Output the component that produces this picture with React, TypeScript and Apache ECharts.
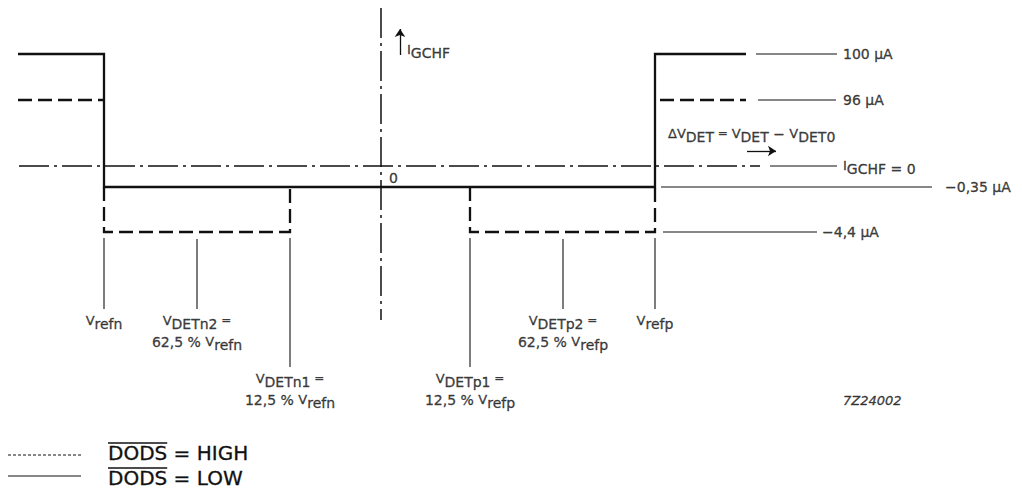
import React, { useEffect, useRef } from "react";
import * as echarts from "echarts";

// ---- data (schematic) ----
// current levels of I_GCHF and their vertical position on the schematic axis
const levelTexts = ["100 µA", "96 µA", "I_GCHF = 0", "−0,35 µA", "−4,4 µA"];
const levelPos = [112, 66, 0, -21, -66];
// detection voltages along ΔV_DET and their horizontal position on the schematic axis
const voltNames = ["Vrefn", "VDETn2", "VDETn1", "0", "VDETp1", "VDETp2", "Vrefp"];
const voltPos = [-276, -183, -90, 0, 90, 183, 275];
const voltPercent = ["", "62,5 %", "12,5 %", "", "12,5 %", "62,5 %", ""];
const legendTexts = ["DODS = HIGH", "DODS = LOW"];
const figureCode = "7Z24002";

const INK = "#111111";
const FONT = "DejaVu Sans";

const [L100, L96, L0, L035, L44] = levelPos;
const [Vrn, Vn2, Vn1, V0, Vp1, Vp2, Vrp] = voltPos;

// drawing extents (layout)
const XL = -362;
const XR = 366;

const lowPath = [
  [XL, L100], [Vrn, L100], [Vrn, L035], [Vrp, L035], [Vrp, L100], [XR, L100],
];
const highPaths = [
  [[XL, L96], [Vrn, L96]],
  [[Vrn, L035], [Vrn, L44], [Vn1, L44], [Vn1, L035]],
  [[Vp1, L035], [Vp1, L44], [Vrp, L44], [Vrp, L035]],
  [[Vrp + 5, L96], [XR, L96]],
];
const axisPaths = [
  [[XL + 1, L0], [380, L0]],
  [[V0 + 1, 158], [V0 + 1, -154]],
];
const levelLeaderX: number[][] = [[376, 457], [378, 456], [390, 457], [Vrp + 6, 552], [Vrp + 8, 437]];
const levelLabelX = [463, 463, 463, 565, 442];
const leaderPaths = [
  ...levelPos.map((y, i) => [[levelLeaderX[i][0], y], [levelLeaderX[i][1], y]]),
  [[Vrn, L44 - 6], [Vrn, -143]],
  [[Vn2, L44 - 7], [Vn2, -143]],
  [[Vn1, L44 - 6], [Vn1, -201]],
  [[Vp1, L44 - 6], [Vp1, -201]],
  [[Vp2, L44 - 7], [Vp2, -143]],
  [[Vrp, L44 - 6], [Vrp, -143]],
];
const arrowPaths = [
  [[20, 111], [20, 137]],
  [[367, 15], [396, 15]],
];

const sub = (m: string, s: string) => `{m|${m}}{s|${s}}`;
const splitName = (n: string) => [n.charAt(0), n.slice(1)];

function voltLabel(i: number) {
  const [m, s] = splitName(voltNames[i]);
  if (!voltPercent[i]) return sub(m, s);
  const ref = i < 3 ? "refn" : "refp";
  return `${sub(m, s)}{q| =}\n{n|${voltPercent[i]} }${sub("V", ref)}`;
}

function levelLabel(t: string) {
  if (t.startsWith("I_")) {
    const [a, rest] = t.split(" = ");
    return `{m|I}{s|${a.slice(2)}}{s| = ${rest}}`;
  }
  return `{n|${t}}`;
}

const bold = { textBorderColor: INK, textBorderWidth: 0.35 };
const rich = {
  m: { fontFamily: FONT, fontSize: 13, color: INK, lineHeight: 15, verticalAlign: "top", ...bold },
  s: { fontFamily: FONT, fontSize: 14, color: INK, lineHeight: 15, verticalAlign: "top", padding: [3, 0, 0, 0], ...bold },
  n: { fontFamily: FONT, fontSize: 14, color: INK, lineHeight: 15, verticalAlign: "top", ...bold },
  e: { fontFamily: FONT, fontSize: 12, color: INK, lineHeight: 15, verticalAlign: "top", ...bold },
  q: { fontFamily: FONT, fontSize: 12, color: INK, lineHeight: 21, verticalAlign: "top", padding: [0, 0, 6, 0], ...bold },
  c: { fontFamily: FONT, fontSize: 13, color: INK, fontStyle: "italic", ...bold },
};

const labelItems: any[] = [];
// level labels
levelTexts.forEach((t, i) => {
  labelItems.push({
    value: [levelLabelX[i], levelPos[i]],
    label: { formatter: levelLabel(t), align: "left", verticalAlign: "middle" },
  });
});
// voltage labels below leaders
voltNames.forEach((n, i) => {
  if (n === "0") return;
  const deep = i === 2 || i === 4;
  labelItems.push({
    value: [voltPos[i], deep ? -206 : -148],
    label: { formatter: voltLabel(i), align: "center", verticalAlign: "top" },
  });
});
labelItems.push({ value: [V0 + 9, -12], label: { formatter: "{n|0}", align: "left", verticalAlign: "middle" } });
labelItems.push({ value: [27, 123], label: { formatter: sub("I", "GCHF"), align: "left", verticalAlign: "top" } });
labelItems.push({
  value: [288, 39],
  label: {
    formatter: `{m|ΔV}{s|DET}{e| = }{m|V}{s|DET}{n| − }{m|V}{s|DET0}`,
    align: "left",
    verticalAlign: "top",
  },
});
labelItems.push({ value: [463, -234], label: { formatter: `{c|${figureCode}}`, align: "left", verticalAlign: "middle" } });

function measure(text: string, font: string) {
  const ctx = document.createElement("canvas").getContext("2d");
  if (!ctx) return text.length * 14;
  ctx.font = font;
  return ctx.measureText(text).width;
}

export default function App() {
  const ref = useRef<HTMLDivElement>(null);
  useEffect(() => {
    if (!ref.current) return;
    const chart = echarts.init(ref.current, null, { renderer: "svg" });
    const legendFont = `20px "${FONT}"`;
    const wDods = measure("DODS", legendFont);
    const legendRows = [
      { y: 455, cy: 453, text: legendTexts[0], dash: [3, 2] },
      { y: 476, cy: 478, text: legendTexts[1], dash: null },
    ];
    const graphic: any[] = [];
    legendRows.forEach((r) => {
      graphic.push({
        type: "line",
        shape: { x1: 8, y1: r.y, x2: 81, y2: r.y },
        style: { stroke: INK, lineWidth: 1, lineDash: r.dash || undefined },
      });
      graphic.push({
        type: "text",
        x: 108,
        y: r.cy,
        style: {
          text: r.text, font: legendFont, fill: INK, verticalAlign: "middle", align: "left",
          stroke: INK, lineWidth: 0.3,
        },
      });
      graphic.push({
        type: "line",
        shape: { x1: 108, y1: r.cy - 10, x2: 108 + wDods, y2: r.cy - 10 },
        style: { stroke: INK, lineWidth: 1.3 },
      });
    });

    chart.setOption({
      animation: false,
      backgroundColor: "#ffffff",
      grid: { left: 0, right: 0, top: 0, bottom: 0 },
      xAxis: { type: "value", min: -380, max: 642, show: false },
      yAxis: { type: "value", min: -330, max: 166, show: false },
      series: [
        {
          name: "DODS = LOW",
          type: "lines",
          coordinateSystem: "cartesian2d",
          polyline: true,
          silent: true,
          data: [{ coords: lowPath }],
          lineStyle: { color: INK, width: 2.3, type: "solid", opacity: 1 },
        },
        {
          name: "DODS = HIGH",
          type: "lines",
          coordinateSystem: "cartesian2d",
          polyline: true,
          silent: true,
          data: highPaths.map((c) => ({ coords: c })),
          lineStyle: { color: INK, width: 2.3, type: [14, 6], opacity: 1 },
        },
        {
          name: "axes",
          type: "lines",
          coordinateSystem: "cartesian2d",
          polyline: true,
          silent: true,
          data: axisPaths.map((c) => ({ coords: c })),
          lineStyle: { color: INK, width: 1.5, type: [30, 5, 3, 5], opacity: 1 },
        },
        {
          name: "leaders",
          type: "lines",
          coordinateSystem: "cartesian2d",
          polyline: true,
          silent: true,
          data: leaderPaths.map((c) => ({ coords: c })),
          lineStyle: { color: INK, width: 1.1, type: "solid", opacity: 1 },
        },
        {
          name: "arrows",
          type: "lines",
          coordinateSystem: "cartesian2d",
          silent: true,
          symbol: ["none", "arrow"],
          symbolSize: 8,
          data: arrowPaths.map((c) => ({ coords: c })),
          lineStyle: { color: INK, width: 1.3, type: "solid", opacity: 1 },
          itemStyle: { color: INK },
        },
        {
          name: "labels",
          type: "scatter",
          silent: true,
          symbolSize: 1,
          itemStyle: { color: "rgba(0,0,0,0)" },
          data: labelItems,
          label: { show: true, position: "inside", fontFamily: FONT, color: INK, rich },
          labelLayout: { hideOverlap: false },
          z: 5,
        },
      ],
      graphic,
    });
    return () => chart.dispose();
  }, []);
  return (
    <div
      ref={ref}
      style={{ position: "fixed", left: 0, top: 0, width: 1022, height: 496, background: "#fff" }}
    />
  );
}
